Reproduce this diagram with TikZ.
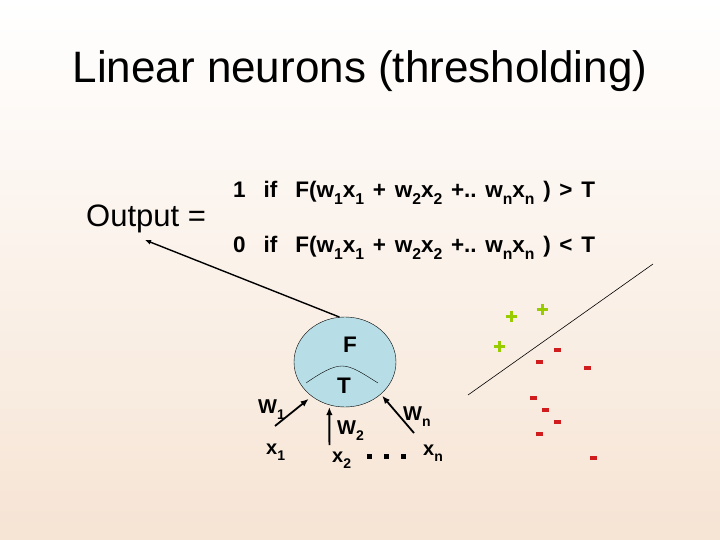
\documentclass[tikz,border=0pt]{standalone}
\usepackage{fontspec}
\setmainfont{Liberation Sans}
\usepackage{graphicx}
\usetikzlibrary{arrows.meta,positioning,shapes.geometric}
\definecolor{ink}{HTML}{000000}
\definecolor{cellblue}{HTML}{B7DEE6}
\definecolor{peach}{HTML}{F6E4D4}
\definecolor{plusgreen}{HTML}{99CC00}
\definecolor{minusred}{HTML}{D01C1C}
\newcommand{\lo}[1]{\raisebox{-0.32em}{\scalebox{0.7}{#1}}}
\newcommand{\wsp}{\hspace{8.7pt}}
\tikzset{
  >=Latex,
  every node/.style={text=ink,inner sep=0pt},
  headline/.style={font=\fontsize{44}{53}\selectfont,anchor=base},
  bigtext/.style={font=\fontsize{31}{37}\selectfont,anchor=base west},
  cond/.style={font=\fontsize{22.5}{27}\selectfont\bfseries,anchor=base west},
  lbl/.style={font=\fontsize{20}{24}\selectfont\bfseries,anchor=base west},
  cell/.style={ellipse,draw=ink,thin,fill=cellblue,minimum width=102pt,minimum height=90pt},
  inarrow/.style={-{Latex[length=8pt,width=6.5pt]},line width=1.8pt,draw=ink},
  outarrow/.style={-{Latex[length=6pt,width=5pt]},line width=1.4pt,draw=ink},
  divider/.style={draw=ink,line width=0.6pt},
  plusmark/.style={draw=plusgreen,line width=3pt},
  minusmark/.style={fill=minusred}
}

\begin{document}
\begin{tikzpicture}[x=1pt,y=-1pt]
  \useasboundingbox (0,0) rectangle (720,540);
  \shade[top color=white,bottom color=peach] (0,0) rectangle (720,540);

  \node[headline] (title) at (360,83) {Linear neurons (thresholding)};
  \node[bigtext] (out) at (86,226) {Output =};
  \node[cond] (cond1) at (233,197) {1\hspace{18pt}if\hspace{18pt}F(w\lo{1}x\lo{1}\wsp+\wsp w\lo{2}x\lo{2}\wsp+..\wsp w\lo{n}x\lo{n}\wsp)\wsp>\wsp T};
  \node[cond] (cond0) at (233,252) {0\hspace{18pt}if\hspace{18pt}F(w\lo{1}x\lo{1}\wsp+\wsp w\lo{2}x\lo{2}\wsp+..\wsp w\lo{n}x\lo{n}\wsp)\wsp<\wsp T};

  % neuron
  \node[cell] (neuron) at (345,362) {};
  \draw[ink,thin] (306,383) .. controls (322,372) and (333,366) .. (342,366) .. controls (352,366) and (362,373) .. (378,383);
  \node[cond,anchor=base] (fn) at (350,352) {F};
  \node[cond,anchor=base] (thr) at (344,393) {T};

  % inputs
  \node[lbl] (w1) at (258,413) {W\lo{1}};
  \node[lbl] (x1) at (266,454) {x\lo{1}};
  \node[lbl] (w2) at (337,434) {W\lo{2}};
  \node[lbl] (x2) at (332,462) {x\lo{2}};
  \node[lbl] (wn) at (403,420) {W\lo{n}};
  \node[lbl] (xn) at (423,455) {x\lo{n}};
  \foreach \dx in {369,386,403}
    \fill[ink] (\dx-2.5,454) rectangle (\dx+2.5,458.5);

  \coordinate (w1tail) at (275,426);
  \coordinate (w2tail) at (329.4,445);
  \coordinate (wntail) at (414,433);
  \draw[inarrow,shorten >=4pt] (w1tail) -- (neuron.226);
  \draw[inarrow,shorten >=2pt] (w2tail) -- (neuron.250);
  \draw[inarrow,shorten >=2pt] (wntail) -- (neuron.318);

  \coordinate (outtip) at (145,240);
  \draw[outarrow] (neuron.97) -- (outtip);

  % separating line and samples
  \coordinate (divlo) at (468,395);
  \coordinate (divhi) at (653,264);
  \draw[divider] (divlo) -- (divhi);
  \foreach \p in {(511,316),(542,309),(499,346)}
    \draw[plusmark] \p +(-5.5,0) -- +(5.5,0) \p +(0,-5.5) -- +(0,5.5);
  \foreach \p in {(557,350),(539,362),(587,368),(533,398),(545,410),(557,422),(539,434),(593,458)}
    \fill[minusmark] \p +(-3.5,-1.6) rectangle +(3.5,1.6);
\end{tikzpicture}
\end{document}
